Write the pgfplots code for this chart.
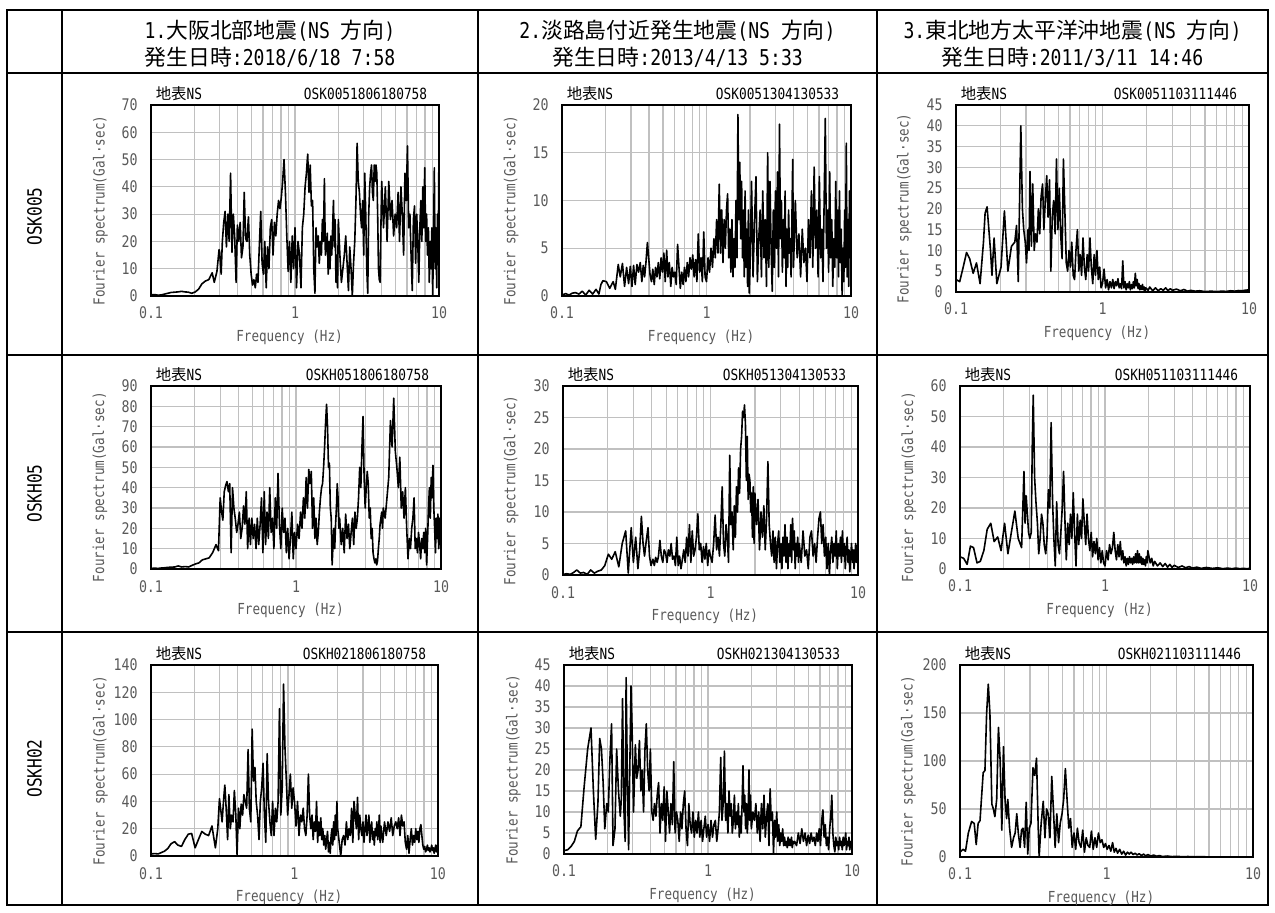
\documentclass[border=0pt]{standalone}
\usepackage{fontspec}
\setmainfont{DejaVu Sans Mono}[FakeStretch=0.83]
\newfontfamily\cjk{Noto Sans CJK JP}
\usepackage{pgfplots}
\pgfplotsset{compat=1.18}
\definecolor{lab}{HTML}{595959}
\definecolor{gridc}{HTML}{C0C0C0}
\newcommand\hdr{\fontsize{10.9}{12}\selectfont}
\newcommand\tit[1]{%
 \node[anchor=base west, inner sep=0pt, font=\fontsize{7.7}{8}\selectfont, xshift=2.2pt, yshift=2.6pt] at (axis description cs:0,1) {{\cjk 地表}NS};%
 \node[anchor=base east, inner sep=0pt, font=\fontsize{7.7}{8}\selectfont, xshift=-5.75pt, yshift=2.6pt] at (axis description cs:1,1) {#1};}
\pgfplotsset{
 fspec/.style={
  scale only axis, anchor=north west,
  xmin=0.1, xmax=10, ymin=0,
  xtick={0.1,1,10}, xticklabels={0.1,1,10},
  minor xtick={0.2,0.3,0.4,0.5,0.6,0.7,0.8,0.9,2,3,4,5,6,7,8,9},
  major tick length=0pt, minor tick length=0pt,
  xmajorgrids, xminorgrids, ymajorgrids,
  grid style={draw=gridc, line width=0.6pt},
  minor grid style={draw=gridc, line width=0.6pt},
  axis line style={draw=black, line width=0.7pt},
  yticklabel style={/pgf/number format/assume math mode=true},
  tick label style={font=\fontsize{8}{9}\selectfont, text=lab, inner sep=0pt},
  xticklabel style={anchor=base, yshift=-11.5pt},
  yticklabel style={anchor=east, xshift=-6.5pt},
  xlabel={Frequency (Hz)},
  ylabel={Fourier spectrum(Gal·sec)},
  every axis x label/.style={at={(axis description cs:0.481,0)}, anchor=base, yshift=-22.75pt, font=\fontsize{7.6}{8}\selectfont, text=lab},
  every axis y label/.style={at={(axis description cs:-0.176,0.447)}, anchor=center, rotate=90, font=\fontsize{7.6}{8}\selectfont, text=lab},
 },
 sp/.style={black, line width=0.8pt, line join=round, mark=none},
}
\begin{document}
\begin{tikzpicture}
\path (0,0) rectangle (637.5pt,-456pt);
\begin{scope}[line width=1.4pt]
\draw (3.5pt,-5pt) rectangle (634pt,-452.5pt);
\draw (31pt,-5pt) -- (31pt,-452.5pt);
\draw (239pt,-5pt) -- (239pt,-452.5pt);
\draw (438.5pt,-5pt) -- (438.5pt,-452.5pt);
\draw (3.5pt,-36.5pt) -- (634pt,-36.5pt);
\draw (3.5pt,-177.5pt) -- (634pt,-177.5pt);
\draw (3.5pt,-316pt) -- (634pt,-316pt);
\end{scope}
\node[anchor=base, inner sep=0pt, font=\hdr] at (135pt,-19.5pt) {1.{\cjk 大阪北部地震}(NS {\cjk 方向})};
\node[anchor=base, inner sep=0pt, font=\hdr] at (135pt,-32.75pt) {{\cjk 発生日時}:2018/6/18 7:58};
\node[anchor=base, inner sep=0pt, font=\hdr] at (338.75pt,-19.5pt) {2.{\cjk 淡路島付近発生地震}(NS {\cjk 方向})};
\node[anchor=base, inner sep=0pt, font=\hdr] at (338.75pt,-32.75pt) {{\cjk 発生日時}:2013/4/13 5:33};
\node[anchor=base, inner sep=0pt, font=\hdr] at (536.25pt,-19.5pt) {3.{\cjk 東北地方太平洋沖地震}(NS {\cjk 方向})};
\node[anchor=base, inner sep=0pt, font=\hdr] at (536.25pt,-32.75pt) {{\cjk 発生日時}:2011/3/11 14:46};
\node[rotate=90, inner sep=0pt, font=\fontsize{9.75}{11}\selectfont] at (17.25pt,-108.25pt) {OSK005};
\node[rotate=90, inner sep=0pt, font=\fontsize{9.75}{11}\selectfont] at (17.25pt,-246.75pt) {OSKH05};
\node[rotate=90, inner sep=0pt, font=\fontsize{9.75}{11}\selectfont] at (17.25pt,-384.25pt) {OSKH02};

% R1C1
\begin{semilogxaxis}[fspec, at={(75.5pt,-52.5pt)}, width=144pt, height=95.5pt, ymax=70, ytick distance=10, extra description/.code={\tit{OSK0051806180758}}]
\addplot[sp] coordinates {
(0.1,0.5)(0.106,0.5)(0.112,0.3)(0.118,0.4)(0.124,0.7)(0.131,1.0)(0.138,1.3)(0.146,1.4)(0.154,1.5)(0.163,1.7)(0.172,1.5)(0.182,1.4)(0.192,1.0)(0.203,1.5)(0.214,2.5)(0.226,4.5)(0.239,5.5)(0.252,6.0)(0.266,8.5)(0.275,5)(0.287,9)(0.297,17)
(0.300,16)(0.307,8)(0.313,20)(0.320,27)(0.327,31)(0.334,18)(0.342,30)(0.349,20)(0.357,45)(0.365,16)(0.373,30)(0.381,22)(0.390,5)(0.398,26)(0.407,20)(0.416,27)(0.425,14)(0.435,18)(0.444,38)(0.454,21)(0.464,20)(0.475,29)(0.485,15)(0.496,8)(0.507,4)(0.518,6)(0.530,3)(0.541,8)(0.553,5)(0.566,19)(0.578,31)(0.591,12)(0.604,8)(0.617,20)(0.631,3)(0.645,18)(0.659,10)(0.674,25)(0.689,28)(0.704,15)(0.720,27)(0.736,22)(0.752,30)(0.769,35)(0.786,32)(0.803,36)(0.821,42)(0.839,50)(0.858,38)(0.877,22)(0.896,9)(0.916,20)(0.936,5)(0.957,22)(0.978,10)
(1.000,25)(1.025,3)(1.050,20)(1.075,15)(1.100,3)(1.125,25)(1.150,30)(1.175,40)(1.200,45)(1.225,52)(1.250,38)(1.275,48)(1.300,33)(1.325,35)(1.350,10)(1.375,1)(1.400,25)(1.425,18)(1.450,22)(1.475,12)(1.500,20)(1.525,15)(1.550,28)(1.575,20)(1.600,43)(1.625,15)(1.650,18)(1.675,23)(1.700,8)(1.725,20)(1.750,10)(1.775,22)(1.800,15)(1.825,25)(1.850,35)(1.875,18)(1.900,28)(1.925,5)(1.950,15)(1.975,3)
(2.00,28)(2.05,15)(2.10,5)(2.15,10)(2.20,15)(2.25,22)(2.30,12)(2.35,2)(2.40,18)(2.45,10)(2.50,0)(2.55,12)(2.60,20)(2.65,35)(2.70,56)(2.75,42)(2.80,38)(2.85,30)(2.90,25)(2.95,35)(3.00,15)(3.05,45)(3.10,30)(3.15,10)(3.20,1)(3.25,30)(3.30,40)(3.35,45)(3.40,48)(3.45,38)(3.50,35)(3.55,48)(3.60,42)(3.65,48)(3.70,45)(3.75,30)(3.80,10)(3.85,6)(3.90,5)(3.95,25)
(4.00,42)(4.12,25)(4.24,40)(4.36,20)(4.48,42)(4.60,28)(4.72,35)(4.84,22)(4.96,30)(5.08,25)(5.20,38)(5.32,20)(5.44,40)(5.56,30)(5.68,15)(5.80,45)(5.92,35)(6.04,55)(6.16,25)(6.28,30)(6.40,15)(6.52,2)(6.64,28)(6.76,33)(6.88,12)(7.00,30)(7.12,20)(7.24,5)(7.36,25)(7.48,35)(7.60,20)(7.72,40)(7.84,25)(7.96,47)(8.08,20)(8.20,30)(8.32,15)(8.44,25)(8.56,5)(8.68,20)(8.80,10)(8.92,25)(9.04,0)(9.16,20)(9.28,47)(9.40,10)(9.52,25)(9.64,3)(9.76,30)(9.88,15)(10.0,57)
};
\end{semilogxaxis}

% R1C2
\begin{semilogxaxis}[fspec, at={(281pt,-52.5pt)}, width=144.5pt, height=95.5pt, ymax=20, ytick distance=5, extra description/.code={\tit{OSK0051304130533}}]
\addplot[sp] coordinates {
(0.100,0.1)(0.106,0.25)(0.112,0.1)(0.118,0.3)(0.124,0.35)(0.131,0.2)(0.138,0.5)(0.146,0.1)(0.154,0.6)(0.163,0.2)(0.172,0.7)(0.180,0.2)(0.186,1.2)(0.192,1.6)(0.203,1.5)(0.214,0.8)(0.226,1.5)(0.234,0.7)(0.245,3.3)(0.253,2.0)(0.262,3.4)(0.271,1.0)(0.280,3.0)(0.289,1.3)(0.297,3.1)
(0.305,1.0)(0.313,3.2)(0.321,1.2)(0.330,3.3)(0.339,2.5)(0.348,3.5)(0.357,1.5)(0.365,3.2)(0.373,2.0)(0.381,3.5)(0.390,5.6)(0.398,4.0)(0.407,2.2)(0.416,1.5)(0.425,2.8)(0.435,1.2)(0.444,3.0)(0.454,2.0)(0.464,3.5)(0.475,1.8)(0.485,4.0)(0.496,2.5)(0.507,4.5)(0.518,1.5)(0.530,4.8)(0.541,2.0)(0.553,3.5)(0.566,1.0)(0.578,3.0)(0.591,2.0)(0.604,2.5)(0.617,1.2)(0.631,5.4)(0.645,3.0)(0.659,0.8)(0.674,2.5)(0.689,1.2)(0.704,3.0)(0.720,1.5)(0.736,3.5)(0.752,2.0)(0.769,4.0)(0.786,2.8)(0.803,4.3)(0.821,2.0)(0.839,3.8)(0.858,1.5)(0.877,6.5)(0.896,2.5)(0.916,4.0)(0.936,1.5)(0.957,6.7)(0.978,2.0)
(1.000,1.5)(1.025,4.0)(1.050,2.5)(1.075,5.0)(1.100,3.0)(1.125,6.0)(1.150,4.0)(1.175,8.0)(1.200,4.5)(1.225,11.7)(1.250,4.5)(1.275,9.0)(1.300,3.5)(1.325,8.0)(1.350,5.0)(1.375,9.0)(1.400,10.7)(1.425,4.0)(1.450,7.0)(1.475,2.5)(1.500,8.0)(1.525,2.0)(1.550,6.0)(1.575,3.0)(1.600,10.0)(1.625,4.0)(1.650,19.0)(1.675,8.0)(1.700,14.0)(1.725,6.0)(1.750,12.0)(1.775,4.0)(1.800,9.0)(1.825,2.0)(1.850,11.0)(1.875,3.0)(1.900,7.0)(1.925,1.0)(1.950,9.0)(1.975,0.3)
(2.00,3.0)(2.05,12.0)(2.10,2.0)(2.15,8.0)(2.20,12.5)(2.25,1.5)(2.30,6.0)(2.35,9.0)(2.40,2.0)(2.45,11.0)(2.50,4.0)(2.55,8.0)(2.60,1.0)(2.65,15.0)(2.70,3.0)(2.75,12.0)(2.80,5.0)(2.85,0.5)(2.90,9.0)(2.95,3.0)(3.00,11.0)(3.05,5.0)(3.10,13.0)(3.15,2.0)(3.20,18.0)(3.25,6.0)(3.30,10.0)(3.35,2.5)(3.40,8.0)(3.45,4.0)(3.50,11.0)(3.55,1.0)(3.60,7.0)(3.65,3.0)(3.70,9.0)(3.75,4.5)(3.80,6.0)(3.85,2.0)(3.90,8.0)(3.95,14.3)
(4.00,3.0)(4.12,10.0)(4.24,4.0)(4.36,6.5)(4.48,2.0)(4.60,7.0)(4.72,3.5)(4.84,5.0)(4.96,1.5)(5.08,8.0)(5.20,4.0)(5.32,11.0)(5.44,3.0)(5.56,13.5)(5.68,5.0)(5.80,9.0)(5.92,2.0)(6.04,12.5)(6.16,4.0)(6.28,7.0)(6.40,1.5)(6.52,10.0)(6.64,18.6)(6.76,5.0)(6.88,9.0)(7.00,2.5)(7.12,13.0)(7.24,4.0)(7.36,8.0)(7.48,1.0)(7.60,6.0)(7.72,3.0)(7.84,12.0)(7.96,4.0)(8.08,9.0)(8.20,2.0)(8.32,11.0)(8.44,3.5)(8.56,7.0)(8.68,0.0)(8.80,5.0)(8.92,1.5)(9.04,9.0)(9.16,3.0)(9.28,16.0)(9.40,2.0)(9.52,8.0)(9.64,1.0)(9.76,11.0)(9.88,4.0)(10.0,12.5)
};
\end{semilogxaxis}

% R1C3
\begin{semilogxaxis}[fspec, at={(478pt,-52.5pt)}, width=146.5pt, height=93.5pt, ymax=45, ytick distance=5, extra description/.code={\tit{OSK0051103111446}}]
\addplot[sp] coordinates {
(0.100,3.0)(0.106,2.5)(0.112,6.0)(0.118,9.5)(0.124,8.0)(0.131,4.5)(0.138,7.0)(0.146,2.0)(0.154,12.0)(0.158,19.0)(0.163,20.5)(0.172,10.0)(0.176,4.0)(0.182,13.0)(0.190,2.0)(0.203,6.0)(0.214,19.5)(0.226,5.0)(0.239,11.0)(0.252,12.0)(0.259,16.0)(0.266,2.5)(0.277,40.0)(0.284,20.0)(0.290,15.0)(0.297,12.0)
(0.303,7)(0.310,15)(0.315,10)(0.320,29)(0.327,11)(0.334,26)(0.342,10)(0.349,14)(0.357,12)(0.365,20)(0.373,14)(0.381,23)(0.390,26)(0.398,15)(0.407,22)(0.416,28)(0.425,18)(0.435,27)(0.444,5)(0.454,18)(0.464,22)(0.475,14)(0.485,32)(0.496,15)(0.507,25)(0.518,14)(0.530,8)(0.541,32)(0.553,20)(0.566,7)(0.578,5)(0.591,10)(0.604,6)(0.617,12)(0.631,4)(0.645,3)(0.659,10)(0.674,15)(0.689,5)(0.704,9)(0.720,4)(0.736,13)(0.752,6)(0.769,3)(0.786,9)(0.803,5)(0.821,13)(0.839,6)(0.858,2)(0.877,9)(0.896,4)(0.916,10)(0.936,3)(0.957,6)(0.978,1)
(1.000,2)(1.025,5.5)(1.050,1)(1.075,3)(1.100,0.5)(1.125,2.5)(1.150,1)(1.175,3)(1.200,0.8)(1.225,2.5)(1.250,1.5)(1.275,3.2)(1.300,1)(1.325,2)(1.350,0.8)(1.375,7.5)(1.400,1)(1.425,2.5)(1.450,0.5)(1.475,2)(1.500,1)(1.525,2.5)(1.550,0.5)(1.575,1.8)(1.600,0.8)(1.625,2.5)(1.650,1)(1.675,4.5)(1.700,1.5)(1.725,3)(1.750,0.8)(1.775,2)(1.800,0.5)(1.825,1.5)(1.850,0.6)(1.875,1.8)(1.900,0.5)(1.925,1.2)(1.950,0.3)(1.975,1.0)
(2.05,0.4)(2.1,1.2)(2.2,0.3)(2.3,1.0)(2.4,0.3)(2.5,0.8)(2.6,0.4)(2.7,1.0)(2.8,0.3)(2.9,0.8)(3.0,0.4)(3.2,0.7)(3.4,0.3)(3.6,0.6)(3.8,0.2)(4.0,0.4)(4.3,0.2)(4.6,0.3)(5,0.1)(5.5,0.2)(6,0.1)(6.5,0.2)(7,0.15)(7.5,0.3)(8,0.2)(8.5,0.35)(9,0.3)(9.5,0.45)(10,0.5)
};
\end{semilogxaxis}

% R2C1
\begin{semilogxaxis}[fspec, at={(75.5pt,-193pt)}, width=145pt, height=91.5pt, ymax=90, ytick distance=10, extra description/.code={\tit{OSKH051806180758}}]
\addplot[sp] coordinates {
(0.100,0.3)(0.106,0.4)(0.112,0.3)(0.118,0.5)(0.124,0.6)(0.131,0.8)(0.138,0.9)(0.146,1.0)(0.154,1.5)(0.163,1.0)(0.172,1.2)(0.182,1.0)(0.192,1.8)(0.203,2.5)(0.214,3.0)(0.226,4.5)(0.239,5.0)(0.252,5.5)(0.266,8.0)(0.281,12.0)(0.292,9.0)
(0.300,35)(0.307,28)(0.313,24)(0.320,38)(0.327,41)(0.334,43)(0.342,38)(0.349,42)(0.357,8)(0.365,40)(0.373,30)(0.381,25)(0.390,18)(0.398,22)(0.407,28)(0.416,15)(0.425,20)(0.435,31)(0.444,22)(0.454,38)(0.464,10)(0.475,25)(0.485,12)(0.496,25)(0.507,15)(0.518,22)(0.530,10)(0.541,25)(0.553,12)(0.566,22)(0.578,35)(0.591,8)(0.604,38)(0.617,12)(0.631,28)(0.645,15)(0.659,40)(0.674,18)(0.689,25)(0.704,10)(0.720,35)(0.736,20)(0.752,47)(0.769,22)(0.786,10)(0.803,30)(0.821,18)(0.839,25)(0.858,8)(0.877,20)(0.896,5)(0.916,15)(0.936,28)(0.957,5)(0.978,18)
(1.000,10)(1.025,22)(1.050,15)(1.075,28)(1.100,20)(1.125,35)(1.150,25)(1.175,45)(1.200,30)(1.225,49)(1.250,42)(1.275,48)(1.300,20)(1.325,35)(1.350,15)(1.375,25)(1.400,12)(1.425,18)(1.450,28)(1.475,35)(1.500,40)(1.525,42)(1.550,50)(1.575,60)(1.600,72)(1.625,81)(1.650,70)(1.675,50)(1.700,52)(1.725,30)(1.750,25)(1.775,2)(1.800,12)(1.825,20)(1.850,10)(1.875,22)(1.900,30)(1.925,42)(1.950,35)(1.975,20)
(2.00,25)(2.05,12)(2.10,20)(2.15,8)(2.20,27)(2.25,15)(2.30,22)(2.35,10)(2.40,18)(2.45,25)(2.50,12)(2.55,28)(2.60,20)(2.65,25)(2.70,35)(2.75,50)(2.80,40)(2.85,60)(2.90,75)(2.95,45)(3.00,30)(3.05,40)(3.10,48)(3.15,42)(3.20,25)(3.25,30)(3.30,15)(3.35,20)(3.40,8)(3.45,5)(3.50,3)(3.55,5)(3.60,2)(3.65,4)(3.70,10)(3.75,15)(3.80,22)(3.85,25)(3.90,28)(3.95,20)
(4.00,30)(4.12,25)(4.24,35)(4.36,45)(4.48,73)(4.60,60)(4.72,84)(4.84,58)(4.96,50)(5.08,40)(5.20,55)(5.32,30)(5.44,38)(5.56,25)(5.68,40)(5.80,20)(5.92,5)(6.04,15)(6.16,10)(6.28,20)(6.40,25)(6.52,35)(6.64,10)(6.76,15)(6.88,8)(7.00,18)(7.12,12)(7.24,5)(7.36,15)(7.48,10)(7.60,18)(7.72,8)(7.84,20)(7.96,2)(8.08,15)(8.20,30)(8.32,40)(8.44,25)(8.56,45)(8.68,35)(8.80,51)(8.92,30)(9.04,20)(9.16,8)(9.28,25)(9.40,15)(9.52,27)(9.64,10)(9.76,25)(9.88,12)(10.0,15)
};
\end{semilogxaxis}

% R2C2
\begin{semilogxaxis}[fspec, at={(281.5pt,-193pt)}, width=147.5pt, height=94.5pt, ymax=30, ytick distance=5, extra description/.code={\tit{OSKH051304130533}}]
\addplot[sp] coordinates {
(0.100,0.1)(0.106,0.2)(0.112,0.1)(0.118,0.4)(0.124,0.8)(0.131,0.3)(0.138,0.4)(0.146,0.1)(0.154,0.8)(0.163,0.3)(0.172,0.6)(0.182,0.8)(0.192,1.5)(0.203,3.3)(0.214,2.5)(0.226,3.7)(0.239,1.3)(0.252,5.0)(0.266,7.0)(0.277,0.3)(0.290,7.5)
(0.300,2)(0.311,6)(0.322,1)(0.331,4)(0.340,9.3)(0.349,5)(0.357,3)(0.365,5)(0.377,7.5)(0.386,3)(0.395,1.5)(0.407,2.5)(0.416,1.5)(0.425,2.8)(0.435,2)(0.444,3)(0.454,5.5)(0.464,3)(0.475,2)(0.485,4)(0.496,3.5)(0.507,2)(0.518,4)(0.530,3)(0.541,5)(0.553,2.5)(0.566,3)(0.578,1.5)(0.591,6)(0.604,1.5)(0.617,3)(0.631,1)(0.645,2.5)(0.659,4)(0.674,2)(0.689,6)(0.704,3)(0.720,8)(0.736,2)(0.752,7)(0.769,3)(0.786,4)(0.803,6)(0.821,9.7)(0.839,4)(0.858,5)(0.877,2)(0.896,4.5)(0.916,2.5)(0.936,5)(0.957,1.5)(0.978,4)
(1.000,3)(1.025,2)(1.050,5)(1.075,9.5)(1.100,4)(1.125,6)(1.150,3)(1.175,8)(1.200,14)(1.225,5)(1.250,3)(1.275,8)(1.300,6)(1.325,2)(1.350,19)(1.375,8)(1.400,10)(1.425,4)(1.450,11)(1.475,6)(1.500,14)(1.525,10)(1.550,17)(1.575,13)(1.600,20)(1.625,22)(1.650,26)(1.675,25)(1.700,27)(1.725,24)(1.750,15)(1.775,22)(1.800,12)(1.825,16)(1.850,15)(1.875,10)(1.900,13)(1.925,6)(1.950,14)(1.975,5)
(2.00,13)(2.05,8)(2.10,12)(2.15,4)(2.20,10)(2.25,6)(2.30,11)(2.35,4)(2.40,9)(2.45,18)(2.50,8)(2.55,5)(2.60,3)(2.65,7)(2.70,2)(2.75,6)(2.80,1)(2.85,5)(2.90,7)(2.95,2)(3.00,5)(3.05,1)(3.10,6)(3.15,3)(3.20,8)(3.25,2)(3.30,6)(3.35,1)(3.40,5)(3.45,3)(3.50,8)(3.55,2)(3.60,9)(3.65,4)(3.70,7)(3.75,1)(3.80,5)(3.85,3)(3.90,6)(3.95,2)
(4.00,5)(4.12,2)(4.24,7)(4.36,3)(4.48,4)(4.60,1)(4.72,6)(4.84,7)(4.96,3)(5.08,5)(5.20,2)(5.32,6)(5.44,9)(5.56,10)(5.68,5)(5.80,8)(5.92,3)(6.04,6)(6.16,1)(6.28,5)(6.40,0)(6.52,4)(6.64,6)(6.76,2)(6.88,5)(7.00,3)(7.12,7)(7.24,1)(7.36,5)(7.48,3)(7.60,6)(7.72,2)(7.84,7)(7.96,3)(8.08,5)(8.20,1)(8.32,4)(8.44,6)(8.56,2)(8.68,4)(8.80,0.5)(8.92,3)(9.04,5)(9.16,2)(9.28,4)(9.40,1)(9.52,3)(9.64,5)(9.76,2)(9.88,4)(10.0,5)
};
\end{semilogxaxis}

% R2C3
\begin{semilogxaxis}[fspec, at={(480pt,-193pt)}, width=145pt, height=91.5pt, ymax=60, ytick distance=10, extra description/.code={\tit{OSKH051103111446}}]
\addplot[sp] coordinates {
(0.100,4.0)(0.106,3.5)(0.112,1.5)(0.118,7.5)(0.124,7.0)(0.131,2.0)(0.138,2.5)(0.146,6.0)(0.154,13.0)(0.163,15.0)(0.172,9.0)(0.182,10.5)(0.192,6.0)(0.203,15.0)(0.214,5.0)(0.226,12.0)(0.239,19.0)(0.252,10.0)(0.266,7.0)(0.276,32.0)(0.281,15.0)(0.286,24.0)(0.297,12.0)
(0.303,10)(0.310,12)(0.315,40)(0.320,57)(0.327,30)(0.334,22)(0.342,15)(0.349,5)(0.357,10)(0.365,18)(0.373,15)(0.381,8)(0.390,5)(0.398,10)(0.407,26)(0.416,20)(0.425,48)(0.435,22)(0.444,10)(0.454,1)(0.464,22)(0.475,8)(0.485,5)(0.496,12)(0.507,20)(0.518,32)(0.530,15)(0.541,3)(0.553,15)(0.566,8)(0.578,18)(0.591,10)(0.604,25)(0.617,12)(0.631,1)(0.645,18)(0.659,8)(0.674,16)(0.689,10)(0.704,23)(0.720,15)(0.736,8)(0.752,18)(0.769,10)(0.786,6)(0.803,12)(0.821,4)(0.839,9)(0.858,5)(0.877,10)(0.896,3)(0.916,7)(0.936,2)(0.957,6)(0.978,2)
(1.000,1)(1.025,6)(1.050,3)(1.075,8)(1.100,5)(1.125,7)(1.150,12)(1.175,6)(1.200,3)(1.225,8)(1.250,4)(1.275,9)(1.300,3)(1.325,6)(1.350,2)(1.375,4)(1.400,1)(1.425,3.5)(1.450,1.5)(1.475,4)(1.500,2)(1.525,3.5)(1.550,1.5)(1.575,4)(1.600,2)(1.625,5)(1.650,2)(1.675,6)(1.700,2)(1.725,5)(1.750,2)(1.775,4)(1.800,1.5)(1.825,3.5)(1.850,1.5)(1.875,3)(1.900,1)(1.925,4)(1.950,2)(1.975,6)
(2.05,2)(2.1,3.5)(2.15,1)(2.2,2.5)(2.3,1)(2.4,2)(2.5,0.8)(2.6,1.8)(2.7,0.6)(2.8,1.5)(2.9,0.5)(3.0,1.2)(3.2,0.5)(3.4,1.0)(3.6,0.4)(3.8,0.8)(4.0,0.3)(4.3,0.6)(4.6,0.2)(5,0.5)(5.5,0.2)(6,0.4)(6.5,0.1)(7,0.3)(7.5,0.1)(8,0.3)(8.5,0.1)(9,0.2)(9.5,0.1)(10,0.2)
};
\end{semilogxaxis}

% R3C1
\begin{semilogxaxis}[fspec, at={(75.5pt,-332.5pt)}, width=143.5pt, height=95.5pt, ymax=140, ytick distance=20, extra description/.code={\tit{OSKH021806180758}}]
\addplot[sp] coordinates {
(0.100,1.5)(0.106,1.8)(0.112,1.5)(0.118,2.5)(0.124,3.5)(0.131,5.5)(0.138,9.0)(0.146,10.5)(0.154,8.0)(0.163,7.0)(0.172,12.0)(0.182,16.0)(0.192,16.5)(0.203,6.0)(0.214,12.0)(0.226,18.0)(0.239,16.0)(0.252,15.0)(0.266,22.0)(0.281,6.0)(0.292,20.0)
(0.300,42)(0.307,33)(0.313,25)(0.320,40)(0.327,52)(0.334,35)(0.342,12)(0.349,45)(0.357,20)(0.365,30)(0.373,25)(0.381,48)(0.390,30)(0.398,1)(0.407,35)(0.416,20)(0.425,38)(0.435,30)(0.444,45)(0.454,40)(0.464,35)(0.475,78)(0.485,35)(0.496,25)(0.507,93)(0.518,55)(0.530,65)(0.541,40)(0.553,30)(0.566,12)(0.578,40)(0.591,50)(0.604,68)(0.617,30)(0.631,10)(0.645,75)(0.659,40)(0.674,25)(0.689,15)(0.704,40)(0.720,15)(0.736,35)(0.752,25)(0.769,40)(0.786,108)(0.803,30)(0.821,50)(0.839,126)(0.858,80)(0.877,56)(0.896,30)(0.916,45)(0.936,60)(0.957,35)(0.978,50)
(1.000,40)(1.025,22)(1.050,40)(1.075,15)(1.100,30)(1.125,25)(1.150,35)(1.175,20)(1.200,15)(1.225,30)(1.250,60)(1.275,30)(1.300,20)(1.325,30)(1.350,12)(1.375,25)(1.400,18)(1.425,40)(1.450,10)(1.475,25)(1.500,15)(1.525,28)(1.550,12)(1.575,20)(1.600,8)(1.625,15)(1.650,5)(1.675,12)(1.700,18)(1.725,3)(1.750,10)(1.775,2)(1.800,15)(1.825,20)(1.850,8)(1.875,25)(1.900,12)(1.925,30)(1.950,15)(1.975,40)
(2.00,20)(2.05,10)(2.10,0)(2.15,12)(2.20,15)(2.25,8)(2.30,25)(2.35,12)(2.40,20)(2.45,15)(2.50,35)(2.55,10)(2.60,40)(2.65,30)(2.70,20)(2.75,43)(2.80,12)(2.85,30)(2.90,20)(2.95,15)(3.00,25)(3.05,10)(3.10,20)(3.15,30)(3.20,15)(3.25,22)(3.30,30)(3.35,10)(3.40,20)(3.45,25)(3.50,12)(3.55,18)(3.60,8)(3.65,20)(3.70,15)(3.75,25)(3.80,12)(3.85,18)(3.90,30)(3.95,10)
(4.00,22)(4.12,10)(4.24,25)(4.36,15)(4.48,25)(4.60,18)(4.72,28)(4.84,15)(4.96,22)(5.08,25)(5.20,20)(5.32,28)(5.44,15)(5.56,30)(5.68,22)(5.80,25)(5.92,10)(6.04,5)(6.16,15)(6.28,2)(6.40,12)(6.52,20)(6.64,8)(6.76,15)(6.88,10)(7.00,20)(7.12,12)(7.24,18)(7.36,10)(7.48,20)(7.60,23)(7.72,15)(7.84,8)(7.96,5)(8.08,7)(8.20,3)(8.32,5)(8.44,8)(8.56,4)(8.68,6)(8.80,3)(8.92,5)(9.04,8)(9.16,4)(9.28,6)(9.40,2)(9.52,5)(9.64,8)(9.76,3)(9.88,6)(10.0,9)
};
\end{semilogxaxis}

% R3C2
\begin{semilogxaxis}[fspec, at={(282pt,-332.5pt)}, width=144pt, height=94.5pt, ymax=45, ytick distance=5, extra description/.code={\tit{OSKH021304130533}}]
\addplot[sp] coordinates {
(0.100,0.8)(0.106,1.0)(0.112,1.8)(0.118,3.0)(0.124,5.5)(0.131,6.5)(0.138,16.0)(0.146,25.0)(0.154,30.0)(0.160,15)(0.166,3.5)(0.172,12)(0.177,27.5)(0.182,25)(0.187,17)(0.192,6.0)(0.198,12)(0.203,10)(0.208,22)(0.214,31.0)(0.219,2)(0.226,6)(0.232,25)(0.239,15)(0.246,9)(0.250,13)(0.255,37)(0.261,10)(0.266,3)(0.270,42)(0.275,20)(0.281,1)(0.292,40)(0.297,30)
(0.304,10)(0.313,26)(0.320,18)(0.327,20)(0.334,27)(0.342,15)(0.349,20)(0.357,10)(0.365,25)(0.373,31)(0.381,20)(0.390,15)(0.398,25)(0.407,10)(0.416,8)(0.425,12)(0.435,9)(0.444,14)(0.454,17)(0.464,5)(0.475,12)(0.485,8)(0.496,16)(0.507,3)(0.518,15)(0.530,10)(0.541,5)(0.553,12)(0.566,7)(0.578,22)(0.591,5)(0.604,10)(0.617,8)(0.631,3)(0.645,10)(0.659,6)(0.674,12)(0.689,15)(0.704,6)(0.720,2)(0.736,12)(0.752,7)(0.769,5)(0.786,10)(0.803,4)(0.821,8)(0.839,5)(0.858,10)(0.877,4)(0.896,8)(0.916,3)(0.936,6)(0.957,9)(0.978,4)
(1.000,7)(1.025,3)(1.050,8)(1.075,4)(1.100,7)(1.125,8)(1.150,3)(1.175,6)(1.200,10)(1.225,23)(1.250,8)(1.275,12)(1.300,24.5)(1.325,8)(1.350,12)(1.375,5)(1.400,15)(1.425,9)(1.450,12)(1.475,5)(1.500,8)(1.525,14)(1.550,6)(1.575,10)(1.600,7)(1.625,12)(1.650,4)(1.675,9)(1.700,5)(1.725,12)(1.750,21)(1.775,10)(1.800,14)(1.825,6)(1.850,12)(1.875,5)(1.900,9)(1.925,20)(1.950,8)(1.975,14)
(2.00,6)(2.05,10)(2.10,8)(2.15,12)(2.20,5)(2.25,10)(2.30,3)(2.35,12)(2.40,6)(2.45,14)(2.50,4)(2.55,9)(2.60,12)(2.65,2)(2.70,15.5)(2.75,8)(2.80,10)(2.85,0.3)(2.90,8)(2.95,4)(3.00,10)(3.05,3)(3.10,7)(3.15,2)(3.20,5)(3.25,3)(3.30,6)(3.35,2)(3.40,4)(3.45,2)(3.50,3)(3.55,1.5)(3.60,4)(3.65,2)(3.70,3.5)(3.75,2)(3.80,4)(3.85,1.5)(3.90,3)(3.95,2.5)
(4.00,3)(4.12,2)(4.24,5)(4.36,2.5)(4.48,6)(4.60,3)(4.72,5)(4.84,2)(4.96,4.5)(5.08,2.5)(5.20,5)(5.32,3)(5.44,4)(5.56,2)(5.68,5)(5.80,3)(5.92,6)(6.04,2)(6.16,8)(6.28,10.5)(6.40,4)(6.52,7)(6.64,2)(6.76,4)(6.88,1)(7.00,6)(7.12,9)(7.24,14)(7.36,5)(7.48,2)(7.60,0.5)(7.72,4)(7.84,2)(7.96,3)(8.08,1)(8.20,4)(8.32,2)(8.44,3)(8.56,1)(8.68,4)(8.80,2)(8.92,3)(9.04,5)(9.16,1)(9.28,3)(9.40,2)(9.52,4)(9.64,1)(9.76,3)(9.88,1.5)(10.0,2)
};
\end{semilogxaxis}

% R3C3
\begin{semilogxaxis}[fspec, at={(480pt,-332.5pt)}, width=146.5pt, height=96pt, ymax=200, ytick distance=50, extra description/.code={\tit{OSKH021103111446}}]
\addplot[sp] coordinates {
(0.100,5)(0.105,8)(0.109,6)(0.114,25)(0.120,37)(0.125,35)(0.129,13)(0.133,35)(0.137,38)(0.140,60)(0.144,88)(0.148,90)(0.152,150)(0.156,180)(0.160,150)(0.165,55)(0.169,50)(0.173,42)(0.178,60)(0.183,135)(0.188,100)(0.193,28)(0.198,115)(0.203,60)(0.208,40)(0.212,60)(0.218,30)(0.225,10)(0.232,20)(0.238,25)(0.244,45)(0.250,25)(0.257,10)(0.263,28)(0.269,30)(0.276,10)(0.283,57)(0.290,3)(0.297,30)
(0.305,35)(0.315,93)(0.324,85)(0.333,103)(0.342,30)(0.347,0)(0.358,35)(0.370,58)(0.380,20)(0.390,50)(0.400,45)(0.411,20)(0.423,84)(0.434,50)(0.446,10)(0.458,45)(0.471,15)(0.483,35)(0.497,45)(0.510,60)(0.524,92)(0.538,60)(0.553,30)(0.568,40)(0.583,10)(0.600,25)(0.616,8)(0.633,30)(0.650,15)(0.669,10)(0.688,28)(0.707,5)(0.727,20)(0.747,12)(0.768,10)(0.789,27)(0.811,8)(0.834,20)(0.857,10)(0.881,25)(0.906,15)(0.931,18)(0.957,10)(0.984,14)
(1.01,8)(1.04,12)(1.07,6)(1.10,15)(1.13,5)(1.16,9)(1.19,4)(1.23,8)(1.27,3)(1.31,6)(1.35,2)(1.39,5)(1.43,3)(1.47,5)(1.52,2.5)(1.57,4)(1.62,2)(1.67,3.5)(1.73,1.5)(1.79,3)(1.85,1.2)(1.92,2.5)(2.0,1)(2.1,2)(2.2,0.8)(2.3,1.5)(2.4,0.5)(2.6,1)(2.8,0.4)(3,0.7)(3.3,0.3)(3.6,0.5)(4,0.2)(4.5,0.3)(5,0.1)(6,0.2)(7,0.1)(8,0.1)(9,0.1)(10,0.1)
};
\end{semilogxaxis}
\end{tikzpicture}
\end{document}
